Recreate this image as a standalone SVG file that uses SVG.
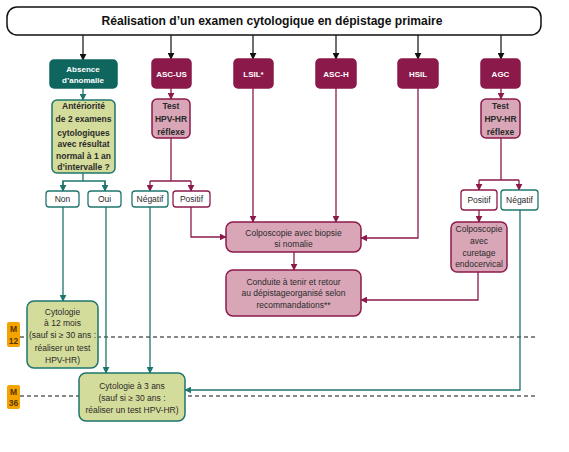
<svg xmlns="http://www.w3.org/2000/svg" width="569" height="452" viewBox="0 0 569 452">
<defs>
<marker id="ab" viewBox="0 0 10 10" refX="9" refY="5" markerWidth="7" markerHeight="7" markerUnits="userSpaceOnUse" orient="auto"><path d="M0,0 L10,5 L0,10 z" fill="#111"/></marker>
<marker id="am" viewBox="0 0 10 10" refX="9" refY="5" markerWidth="7" markerHeight="7" markerUnits="userSpaceOnUse" orient="auto"><path d="M0,0 L10,5 L0,10 z" fill="#8b1a4b"/></marker>
<marker id="at" viewBox="0 0 10 10" refX="9" refY="5" markerWidth="7" markerHeight="7" markerUnits="userSpaceOnUse" orient="auto"><path d="M0,0 L10,5 L0,10 z" fill="#1e756d"/></marker>
</defs>
<style>
text{font-family:"Liberation Sans",Arial,sans-serif;text-anchor:middle}
.title{font-size:12px;font-weight:bold;fill:#111}
.dark{fill:#0f665e;stroke:#0f665e;stroke-width:1.5}
.mar{fill:#8b1a4b;stroke:#8b1a4b;stroke-width:1.5}
.pink{fill:#d8a6b7;stroke:#8b1a4b;stroke-width:1.5}
.green{fill:#d4dc9b;stroke:#1e756d;stroke-width:1.5}
.wt{fill:#fff;stroke:#1e756d;stroke-width:1.3}
.wm{fill:#fff;stroke:#8b1a4b;stroke-width:1.3}
.lw{font-size:8px;font-weight:bold;fill:#fff}
.ld{font-size:8.5px;fill:#2a2a2a}
.lb{font-size:8.5px;font-weight:bold;fill:#2a2a2a}
.cb{fill:none;stroke:#111;stroke-width:1.2}
.cm{fill:none;stroke:#8b1a4b;stroke-width:1.3}
.ct{fill:none;stroke:#1e756d;stroke-width:1.3}
.dash{stroke:#111;stroke-width:1;stroke-dasharray:4 3;fill:none}
.badge{fill:#f5a300}
.bt{font-size:8.5px;font-weight:bold;fill:#5a3600}
</style>
<g id="timeline">
<line class="dash" x1="20" y1="337" x2="538" y2="337"/>
<line class="dash" x1="20" y1="396" x2="538" y2="396"/>
<rect class="badge" x="7" y="322" width="13" height="25" rx="2"/>
<text class="bt" x="13.5" y="332">M</text><text class="bt" x="13.5" y="344">12</text>
<rect class="badge" x="7" y="385" width="13" height="24" rx="2"/>
<text class="bt" x="13.5" y="395">M</text><text class="bt" x="13.5" y="406">36</text>
</g>
<g id="connectors">
<path class="cb" d="M83,35 V60" marker-end="url(#ab)"/>
<path class="cb" d="M171,35 V59" marker-end="url(#ab)"/>
<path class="cb" d="M253,35 V59" marker-end="url(#ab)"/>
<path class="cb" d="M336,35 V59" marker-end="url(#ab)"/>
<path class="cb" d="M418,35 V59" marker-end="url(#ab)"/>
<path class="cb" d="M501,35 V59" marker-end="url(#ab)"/>
<path class="ct" d="M83,88 V100" marker-end="url(#at)"/>
<path class="ct" d="M83,173 V181 M63,190 V181 H105 V190"/>
<path class="ct" d="M63,181 V191" marker-end="url(#at)"/>
<path class="ct" d="M105,181 V191" marker-end="url(#at)"/>
<path class="cm" d="M171,88 V99" marker-end="url(#am)"/>
<path class="cm" d="M171,138 V181 M150,181 H191"/>
<path class="cm" d="M150,181 V191" marker-end="url(#am)"/>
<path class="cm" d="M191,181 V191" marker-end="url(#am)"/>
<path class="cm" d="M501,88 V99" marker-end="url(#am)"/>
<path class="cm" d="M501,138 V180 M479,180 H519"/>
<path class="cm" d="M479,180 V190" marker-end="url(#am)"/>
<path class="cm" d="M519,180 V190" marker-end="url(#am)"/>
<path class="cm" d="M253,88 V222" marker-end="url(#am)"/>
<path class="cm" d="M336,88 V222" marker-end="url(#am)"/>
<path class="cm" d="M418,88 V238 H361" marker-end="url(#am)"/>
<path class="cm" d="M191,207 V237 H226" marker-end="url(#am)"/>
<path class="cm" d="M294,252 V270" marker-end="url(#am)"/>
<path class="cm" d="M479,210 V222" marker-end="url(#am)"/>
<path class="cm" d="M478,272 V300 H361" marker-end="url(#am)"/>
<path class="ct" d="M63,207 V301" marker-end="url(#at)"/>
<path class="ct" d="M106,207 V373" marker-end="url(#at)"/>
<path class="ct" d="M150,207 V373" marker-end="url(#at)"/>
<path class="ct" d="M520,210 V390 H185" marker-end="url(#at)"/>
</g>
<g id="title"><rect x="7" y="7" width="534" height="28" rx="10" fill="#fff" stroke="#111" stroke-width="1.5"/><text class="title" x="272" y="25" textLength="341" lengthAdjust="spacingAndGlyphs">Réalisation d’un examen cytologique en dépistage primaire</text></g>
<g id="absence"><rect class="dark" x="50" y="60" width="67" height="28" rx="4"/><text class="lw" x="83" y="72">Absence</text><text class="lw" x="83" y="83">d’anomalie</text></g>
<g id="ascus"><rect class="mar" x="152" y="59" width="39" height="29" rx="4"/><text class="lw" x="171.5" y="77">ASC-US</text></g>
<g id="lsil"><rect class="mar" x="234" y="59" width="39" height="29" rx="4"/><text class="lw" x="253.5" y="77">LSIL*</text></g>
<g id="asch"><rect class="mar" x="316" y="59" width="40" height="29" rx="4"/><text class="lw" x="336" y="77">ASC-H</text></g>
<g id="hsil"><rect class="mar" x="398" y="59" width="40" height="29" rx="4"/><text class="lw" x="418" y="77">HSIL</text></g>
<g id="agc"><rect class="mar" x="481" y="59" width="39" height="29" rx="4"/><text class="lw" x="500.5" y="77">AGC</text></g>
<g id="anteriorite"><rect class="green" x="52" y="100" width="63" height="73" rx="5"/>
<text class="lb" x="83.5" y="109">Antériorité</text><text class="lb" x="83.5" y="122">de 2 examens</text><text class="lb" x="83.5" y="136">cytologiques</text><text class="lb" x="83.5" y="147">avec résultat</text><text class="lb" x="83.5" y="159">normal à 1 an</text><text class="lb" x="83.5" y="170">d’intervalle ?</text></g>
<g id="test1"><rect class="pink" x="152" y="99" width="38" height="39" rx="5"/><text class="lb" x="171" y="109">Test</text><text class="lb" x="171" y="122">HPV-HR</text><text class="lb" x="171" y="135">réflexe</text></g>
<g id="test2"><rect class="pink" x="481" y="99" width="39" height="39" rx="5"/><text class="lb" x="500.5" y="109">Test</text><text class="lb" x="500.5" y="122">HPV-HR</text><text class="lb" x="500.5" y="135">réflexe</text></g>
<g id="non"><rect class="wt" x="46" y="191" width="33" height="16" rx="3"/><text class="ld" x="62.5" y="202">Non</text></g>
<g id="oui"><rect class="wt" x="88" y="191" width="33" height="16" rx="3"/><text class="ld" x="104.5" y="202">Oui</text></g>
<g id="neg1"><rect class="wt" x="132" y="191" width="36" height="16" rx="3"/><text class="ld" x="150" y="202">Négatif</text></g>
<g id="pos1"><rect class="wm" x="173" y="191" width="37" height="16" rx="3"/><text class="ld" x="191.5" y="202">Positif</text></g>
<g id="pos2"><rect class="wm" x="461" y="190" width="36" height="20" rx="3"/><text class="ld" x="479" y="203">Positif</text></g>
<g id="neg2"><rect class="wt" x="501" y="190" width="37" height="20" rx="3"/><text class="ld" x="519.5" y="203">Négatif</text></g>
<g id="colpo"><rect class="pink" x="226" y="222" width="135" height="30" rx="7"/><text class="ld" x="293.5" y="236">Colposcopie avec biopsie</text><text class="ld" x="293.5" y="247">si nomalie</text></g>
<g id="conduite"><rect class="pink" x="226" y="270" width="135" height="46" rx="7"/><text class="ld" x="293.5" y="285">Conduite à tenir et retour</text><text class="ld" x="293.5" y="296">au dépistageorganisé selon</text><text class="ld" x="293.5" y="308">recommandations**</text></g>
<g id="colpo2"><rect class="pink" x="451" y="222" width="56" height="50" rx="6"/><text class="ld" x="479" y="232">Colposcopie</text><text class="ld" x="479" y="244">avec</text><text class="ld" x="479" y="256">curetage</text><text class="ld" x="479" y="267">endocervical</text></g>
<g id="cyto12"><rect class="green" x="27" y="301" width="71" height="67" rx="7"/><text class="ld" x="62.5" y="315">Cytologie</text><text class="ld" x="62.5" y="326">à 12 mois</text><text class="ld" x="62.5" y="338">(sauf si ≥ 30 ans :</text><text class="ld" x="62.5" y="351">réaliser un test</text><text class="ld" x="62.5" y="363">HPV-HR)</text></g>
<g id="cyto3"><rect class="green" x="79" y="373" width="106" height="48" rx="7"/><text class="ld" x="132" y="389">Cytologie à 3 ans</text><text class="ld" x="132" y="401">(sauf si ≥ 30 ans :</text><text class="ld" x="132" y="413">réaliser un test HPV-HR)</text></g>
</svg>
